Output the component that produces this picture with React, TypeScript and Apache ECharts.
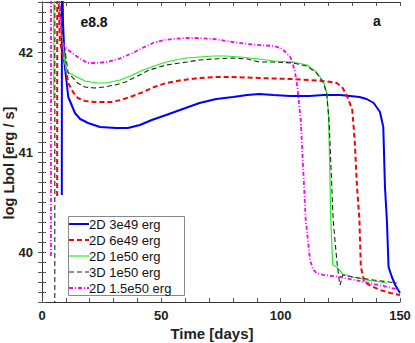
import React, { useEffect, useRef } from "react";
import * as echarts from "echarts";

const seriesNames = ["2D 3e49 erg", "2D 6e49 erg", "2D 1e50 erg", "3D 1e50 erg", "2D 1.5e50 erg"];

const blueT = [8.3, 8.35, 8.6, 8.8, 9.6, 11, 13.8, 16, 19.3, 24.3, 31, 36, 41, 46, 52, 59, 66, 73, 80, 86, 91, 97, 104, 112, 118, 125, 133, 136, 139, 141.6, 143, 143.7, 144.5, 145.2, 146.6, 148, 150];
const blueL = [40.57, 43.0, 43.0, 42.3, 41.85, 41.55, 41.39, 41.33, 41.29, 41.25, 41.24, 41.24, 41.27, 41.32, 41.37, 41.43, 41.49, 41.53, 41.55, 41.57, 41.58, 41.57, 41.56, 41.56, 41.57, 41.57, 41.55, 41.53, 41.49, 41.4, 41.25, 40.65, 40.32, 39.85, 39.75, 39.67, 39.59];

const redT = [6.35, 6.4, 6.6, 7.5, 8.8, 11, 13, 15, 18, 22, 26, 29, 33, 38, 42.4, 47, 52, 59, 66, 73, 80, 91, 104, 112, 118, 121, 123.5, 126, 128, 130, 131, 132, 133, 133.6, 135, 138, 141.6, 146, 150];
const redL = [40.56, 43, 43, 42.1, 41.97, 41.69, 41.6, 41.54, 41.51, 41.5, 41.5, 41.5, 41.52, 41.56, 41.6, 41.65, 41.69, 41.72, 41.74, 41.75, 41.75, 41.74, 41.73, 41.72, 41.71, 41.7, 41.69, 41.64, 41.55, 41.42, 41.12, 40.65, 40.32, 39.85, 39.7, 39.66, 39.62, 39.59, 39.57];

const greenT = [4.95, 5.0, 5.3, 8.0, 9.6, 10.5, 13.8, 18, 23, 27, 32.7, 37, 42.4, 47, 52, 56, 60.7, 66, 71.8, 77, 83, 91, 97, 105, 111, 115, 118, 119.3, 120, 120.3, 121, 121.8, 123.5, 126, 130, 136, 144.5];
const greenL = [41.52, 43, 43, 42.3, 41.89, 41.8, 41.76, 41.71, 41.69, 41.69, 41.72, 41.76, 41.82, 41.86, 41.9, 41.92, 41.94, 41.95, 41.96, 41.96, 41.95, 41.93, 41.91, 41.9, 41.87, 41.8, 41.7, 41.59, 41.39, 41.12, 40.32, 39.87, 39.85, 39.78, 39.75, 39.72, 39.69];

const blackT = [5.35, 5.4, 5.6, 8.5, 11, 15, 18, 22, 26, 30.6, 35, 40, 45, 52, 60.7, 66, 71.8, 80, 86, 91, 97, 105, 111, 115, 118, 119.3, 120.3, 122, 123.5, 124.5, 124.9, 126, 130, 139, 148.7];
const blackL = [39.3, 43, 43, 42.2, 41.79, 41.69, 41.65, 41.64, 41.65, 41.67, 41.7, 41.76, 41.82, 41.87, 41.9, 41.92, 41.93, 41.94, 41.93, 41.9, 41.9, 41.89, 41.86, 41.79, 41.69, 41.58, 41.3, 40.32, 39.92, 39.72, 39.67, 39.77, 39.75, 39.72, 39.69];

const magT = [3.75, 3.8, 4.0, 7.0, 8.4, 11, 13.8, 16, 19.3, 23, 27, 32, 38, 42, 46.5, 51, 55, 60, 66, 72, 80, 86, 91, 97, 100, 102, 104, 105, 106, 107, 108.4, 109.5, 110.5, 112.3, 113.5, 115, 118, 125, 135, 143, 150];
const magL = [39.96, 43, 43, 42.6, 42.09, 42.02, 41.97, 41.93, 41.89, 41.89, 41.9, 41.93, 41.99, 42.04, 42.09, 42.12, 42.13, 42.14, 42.14, 42.13, 42.1, 42.08, 42.07, 42.06, 42.04, 42.0, 41.95, 41.89, 41.8, 41.65, 41.32, 40.8, 40.32, 39.92, 39.83, 39.79, 39.77, 39.75, 39.7, 39.66, 39.62];

const xTickLabels = [0, 50, 100, 150];
const yTickLabels = [40, 41, 42];

const zip = (t: number[], l: number[]) => t.map((v, i) => [v, l[i]]);

const FONT = "'Liberation Sans', Arial, Helvetica, sans-serif";

export default function App() {
  const ref = useRef<HTMLDivElement>(null);
  useEffect(() => {
    if (!ref.current) return;
    const chart = echarts.init(ref.current, null, { renderer: "svg" });
    const axisLine = { show: true, lineStyle: { color: "#333", width: 1 } };
    const axisTick = { show: true, inside: true, length: 4, lineStyle: { color: "#555" } };
    const styles = [
      { color: "#0000ff", width: 2, type: "solid" as any, dash: null as any },
      { color: "#ff0000", width: 2, type: [5, 3] as any, dash: [5, 3] },
      { color: "#22ee22", width: 1.2, type: "solid" as any, dash: null as any },
      { color: "#222222", width: 1.1, type: [5, 3] as any, dash: [5, 3] },
      { color: "#ff00ff", width: 1.8, type: [4, 2, 1, 2] as any, dash: [4, 2, 1, 2] },
    ];
    const dataSets = [zip(blueT, blueL), zip(redT, redL), zip(greenT, greenL), zip(blackT, blackL), zip(magT, magL)];

    const legendLeft = 68;
    const legendTop = 216;
    const rowH = 16;
    const legendGraphics: any[] = [
      {
        type: "rect",
        shape: { x: legendLeft + 0.5, y: legendTop + 0.5, width: 116, height: 79 },
        style: { fill: "#ffffff", stroke: "#888", lineWidth: 1 },
        z: 100,
      },
    ];
    seriesNames.forEach((name, i) => {
      const cy = legendTop + 8 + i * rowH;
      legendGraphics.push({
        type: "line",
        shape: { x1: legendLeft + 1, y1: cy, x2: legendLeft + 21, y2: cy },
        style: { stroke: styles[i].color, lineWidth: styles[i].width, lineDash: styles[i].dash },
        z: 101,
      });
      legendGraphics.push({
        type: "text",
        x: legendLeft + 21,
        y: cy,
        style: {
          text: name,
          fontFamily: FONT,
          fontSize: 13,
          fill: "#111",
          textAlign: "left",
          textVerticalAlign: "middle",
        },
        z: 101,
      });
    });

    chart.setOption({
      animation: false,
      backgroundColor: "#ffffff",
      grid: { left: 42, right: 15, top: 2, bottom: 41, containLabel: false },
      xAxis: [
        {
          type: "value",
          min: 0,
          max: 150,
          interval: 10,
          position: "bottom",
          axisLine,
          axisTick,
          splitLine: { show: false },
          axisLabel: {
            margin: 7,
            fontFamily: FONT,
            fontWeight: "bold",
            fontSize: 13,
            color: "#222",
            formatter: (v: number) => (xTickLabels.includes(Math.round(v)) && Math.abs(v - Math.round(v)) < 1e-6 ? String(Math.round(v)) : ""),
          },
        },
        {
          type: "value",
          min: 0,
          max: 150,
          interval: 10,
          position: "top",
          axisLine,
          axisTick,
          splitLine: { show: false },
          axisLabel: { show: false },
        },
      ],
      yAxis: [
        {
          type: "value",
          min: 39.5,
          max: 42.5,
          interval: 0.1,
          position: "left",
          axisLine,
          axisTick,
          splitLine: { show: false },
          axisLabel: {
            margin: 9,
            fontFamily: FONT,
            fontWeight: "bold",
            fontSize: 13,
            color: "#222",
            formatter: (v: number) => {
              const r = Math.round(v);
              return Math.abs(v - r) < 1e-6 && yTickLabels.includes(r) ? String(r) : "";
            },
          },
        },
        {
          type: "value",
          min: 39.5,
          max: 42.5,
          interval: 0.1,
          position: "right",
          axisLine,
          axisTick,
          splitLine: { show: false },
          axisLabel: { show: false },
        },
      ],
      series: seriesNames.map((name, i) => ({
        name,
        type: "line",
        data: dataSets[i],
        symbol: "none",
        showSymbol: false,
        clip: true,
        smooth: false,
        lineStyle: { color: styles[i].color, width: styles[i].width, type: styles[i].type },
        itemStyle: { color: styles[i].color },
        z: 2 + i,
      })),
      graphic: [
        {
          type: "text",
          x: 9,
          y: 163,
          rotation: Math.PI / 2,
          style: {
            text: "log Lbol [erg / s]",
            fontFamily: FONT,
            fontWeight: "bold",
            fontSize: 14.5,
            fill: "#222",
            textAlign: "center",
            textVerticalAlign: "middle",
          },
        },
        {
          type: "text",
          x: 212,
          y: 333,
          style: {
            text: "Time [days]",
            fontFamily: FONT,
            fontWeight: "bold",
            fontSize: 15,
            fill: "#222",
            textAlign: "center",
            textVerticalAlign: "middle",
          },
        },
        {
          type: "text",
          x: 94,
          y: 22,
          style: {
            text: "e8.8",
            fontFamily: FONT,
            fontWeight: "bold",
            fontSize: 14,
            fill: "#111",
            textAlign: "center",
            textVerticalAlign: "middle",
          },
        },
        {
          type: "text",
          x: 377,
          y: 21,
          style: {
            text: "a",
            fontFamily: FONT,
            fontWeight: "bold",
            fontSize: 14,
            fill: "#111",
            textAlign: "center",
            textVerticalAlign: "middle",
          },
        },
        ...legendGraphics,
      ],
    });
    return () => chart.dispose();
  }, []);
  return (
    <div
      ref={ref}
      style={{ position: "absolute", left: 0, top: 0, width: 415, height: 343 }}
    />
  );
}
